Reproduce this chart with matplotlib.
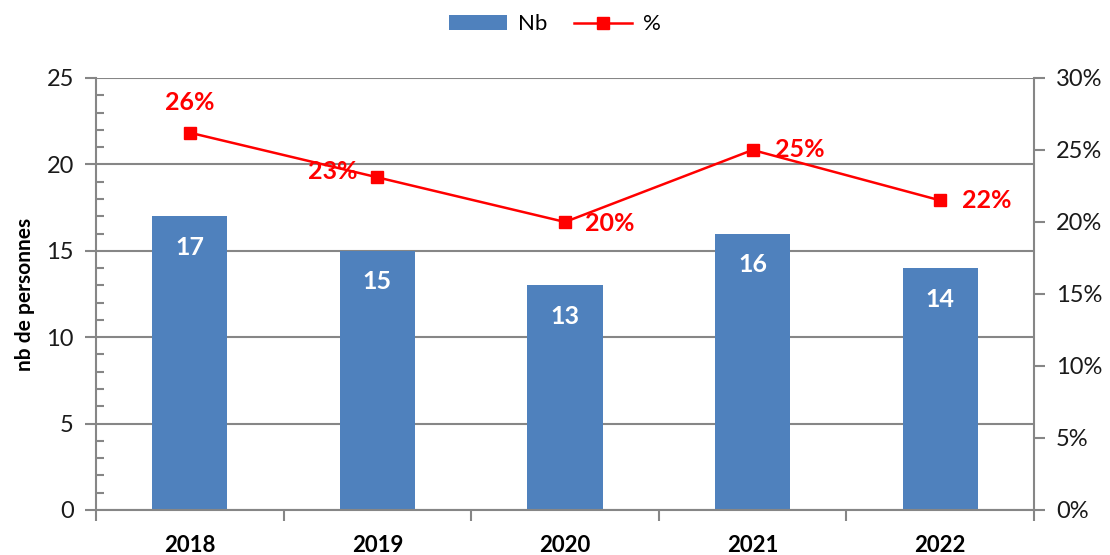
import matplotlib
matplotlib.use("Agg")
import matplotlib.pyplot as plt
from matplotlib.ticker import MultipleLocator, FuncFormatter
import numpy as np

# data
years = ["2018", "2019", "2020", "2021", "2022"]
nb = [17, 15, 13, 16, 14]
pct = [26.2, 23.1, 20.0, 25.0, 21.5]
pct_labels = ["26%", "23%", "20%", "25%", "22%"]

BLUE = "#4F81BD"
RED = "#FF0000"
GRAY = "#868686"

plt.rcParams["font.family"] = ["Lato", "DejaVu Sans"]

fig = plt.figure(figsize=(11.1, 5.55), dpi=100)
ax = fig.add_axes([0.0865, 0.0811, 0.845, 0.7784])
ax2 = ax.twinx()

x = np.arange(len(years))
bars = ax.bar(x, nb, width=0.4, color=BLUE, zorder=3, label="Nb")

ax.set_xlim(-0.5, len(years) - 0.5)
ax.set_ylim(0, 25)
ax.yaxis.set_major_locator(MultipleLocator(5))
ax.yaxis.set_minor_locator(MultipleLocator(1))
ax.grid(axis="y", which="major", color=GRAY, lw=1.5, zorder=0)
ax.set_axisbelow(True)

# x ticks at category boundaries, labels centred
ax.set_xticks(np.arange(-0.5, len(years), 1.0))
ax.set_xticklabels([])
ax.set_xticks(x, minor=True)
ax.set_xticklabels(years, minor=True, fontsize=16, fontweight="bold")
ax.tick_params(axis="x", which="major", direction="out", length=8, width=1.5, color=GRAY)
ax.tick_params(axis="x", which="minor", length=0, pad=18)

ax.tick_params(axis="y", which="major", direction="out", length=8, width=1.5,
               color=GRAY, labelsize=17, labelcolor="#1a1a1a", pad=8)
ax.tick_params(axis="y", which="minor", direction="in", length=6, width=1.5, color=GRAY)
ax.set_ylabel("nb de personnes", fontsize=15, fontweight="bold", labelpad=8)

for sp in ["top", "right", "left", "bottom"]:
    ax.spines[sp].set_visible(False)
ax2.spines["top"].set_visible(False)
for sp in ["left", "right", "bottom"]:
    ax2.spines[sp].set_color(GRAY)
    ax2.spines[sp].set_linewidth(1.5)

# bar value labels
for b, v in zip(bars, nb):
    ax.text(b.get_x() + b.get_width() / 2, v - 1.8, str(v), ha="center", va="center",
            color="white", fontsize=18, fontweight="bold", zorder=4)

# percentage line
ax2.plot(x, pct, color=RED, lw=1.8, marker="s", markersize=9, zorder=5, label="%")
ax2.set_ylim(0, 30)
ax2.yaxis.set_major_locator(MultipleLocator(5))
ax2.yaxis.set_major_formatter(FuncFormatter(lambda v, p: f"{v:.0f}%"))
ax2.tick_params(axis="y", direction="out", length=8, width=1.5, color=GRAY,
                labelsize=17, labelcolor="#1a1a1a", pad=8)

offsets = [(0, 30, "center"), (-20, 6, "right"), (20, -2, "left"), (22, 0, "left"), (22, 0, "left")]
for xi, yi, lab, (dx, dy, ha) in zip(x, pct, pct_labels, offsets):
    ax2.annotate(lab, (xi, yi), xytext=(dx, dy), textcoords="offset pixels",
                 ha=ha, va="center", color=RED, fontsize=18, fontweight="bold")

h1, l1 = ax.get_legend_handles_labels()
h2, l2 = ax2.get_legend_handles_labels()
fig.legend(h1 + h2, l1 + l2, loc="upper center", bbox_to_anchor=(0.5, 1.01), ncol=2,
           frameon=False, fontsize=16, handlelength=2.6, columnspacing=1.2, handletextpad=0.5)

fig.savefig("out.png", dpi=100)
